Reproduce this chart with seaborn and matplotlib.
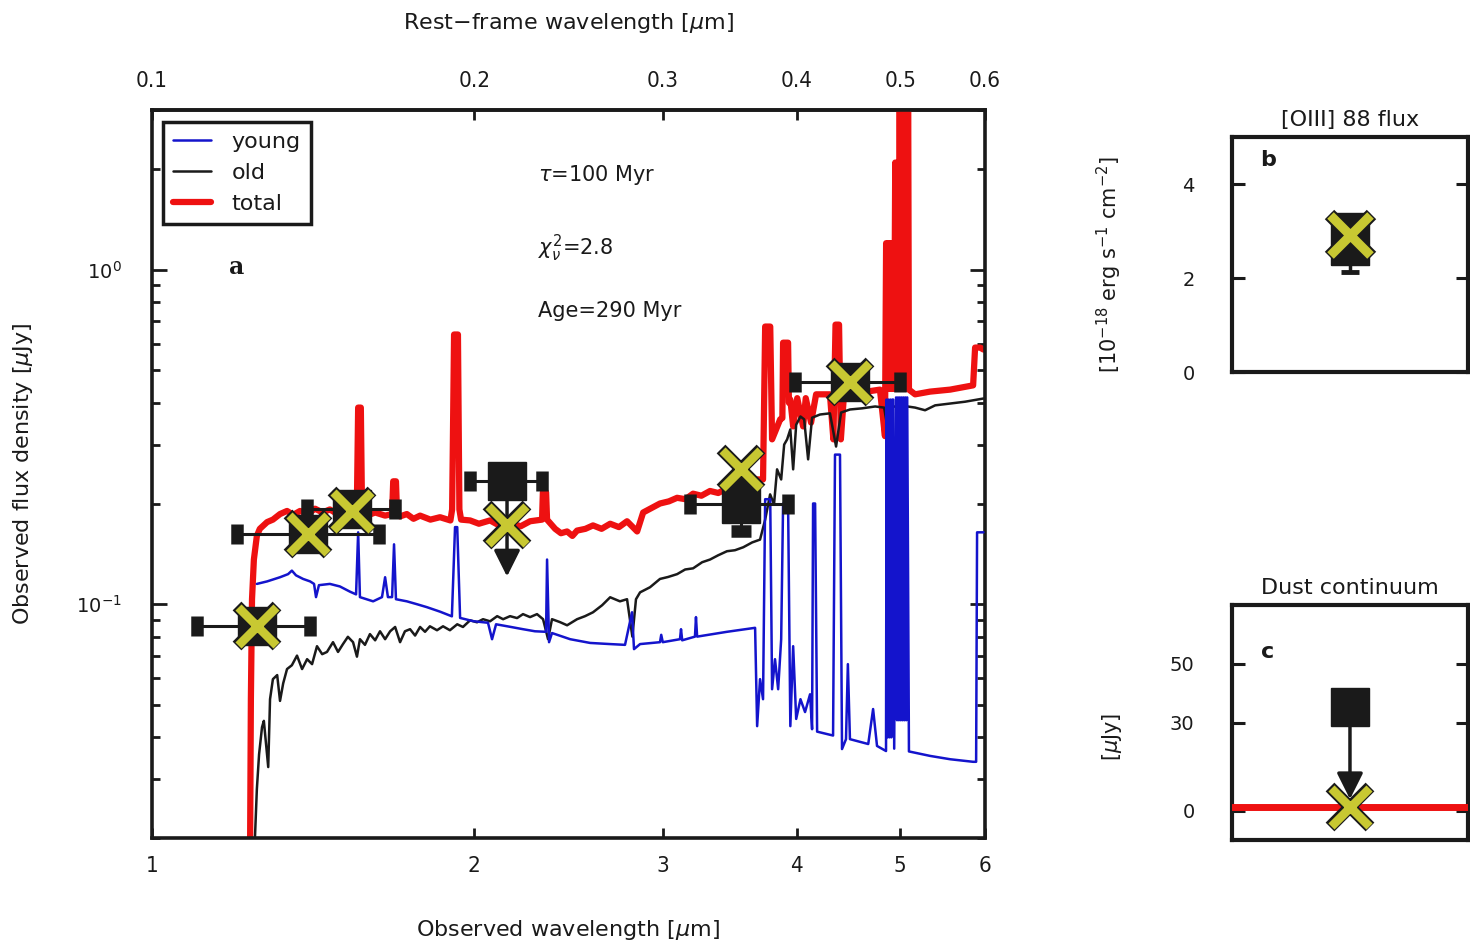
import matplotlib
matplotlib.use("Agg")
import matplotlib.pyplot as plt
from matplotlib import font_manager
from matplotlib.ticker import FixedLocator, NullLocator, LogLocator, NullFormatter
import seaborn as sns

# ---------------- data ----------------
total_wl = [1.235, 1.237, 1.240, 1.245, 1.253, 1.261, 1.281, 1.297, 1.317, 1.337,
            1.355, 1.375, 1.398, 1.420, 1.443, 1.466, 1.490, 1.515, 1.547, 1.554,
            1.558, 1.567, 1.571, 1.595, 1.616, 1.651, 1.676, 1.680, 1.690, 1.694,
            1.705, 1.730, 1.755, 1.780, 1.820, 1.858, 1.900, 1.907, 1.915, 1.931,
            1.937, 1.944, 1.982, 2.020, 2.069, 2.110, 2.160, 2.210, 2.255, 2.314,
            2.318, 2.334, 2.339, 2.380, 2.410, 2.442, 2.470, 2.495, 2.540, 2.582,
            2.630, 2.679, 2.730, 2.778, 2.839, 2.876, 2.930, 2.982, 3.040, 3.094,
            3.150, 3.202, 3.260, 3.321, 3.380, 3.444, 3.500, 3.567, 3.620, 3.675,
            3.722, 3.739, 3.780, 3.795, 3.828, 3.862, 3.880, 3.886, 3.928, 3.935,
            3.947, 3.971, 4.006, 4.057, 4.080, 4.127, 4.172, 4.298, 4.330, 4.350,
            4.383, 4.400, 4.430, 4.585, 4.786, 4.838, 4.850, 4.862, 4.874, 4.886,
            4.898, 4.910, 4.922, 4.934, 4.946, 4.958, 4.970, 4.982, 4.994, 5.006,
            5.018, 5.030, 5.042, 5.054, 5.066, 5.078, 5.084, 5.094, 5.162, 5.331,
            5.567, 5.848, 5.873, 5.936, 5.980, 6.000]
total_fnu = [0.020, 0.052, 0.1035, 0.136, 0.160, 0.168, 0.176, 0.179, 0.186, 0.190,
             0.185, 0.190, 0.186, 0.193, 0.188, 0.192, 0.186, 0.189, 0.188, 0.206,
             0.387, 0.387, 0.192, 0.185, 0.188, 0.184, 0.186, 0.233, 0.233, 0.186,
             0.183, 0.186, 0.180, 0.184, 0.179, 0.182, 0.178, 0.192, 0.640, 0.640,
             0.192, 0.179, 0.178, 0.174, 0.178, 0.172, 0.175, 0.171, 0.177, 0.179,
             0.216, 0.216, 0.179, 0.168, 0.163, 0.165, 0.160, 0.166, 0.168, 0.172,
             0.168, 0.174, 0.170, 0.177, 0.165, 0.188, 0.194, 0.200, 0.203, 0.208,
             0.206, 0.214, 0.211, 0.218, 0.215, 0.222, 0.219, 0.226, 0.230, 0.236,
             0.236, 0.676, 0.676, 0.311, 0.333, 0.357, 0.360, 0.605, 0.605, 0.400,
             0.409, 0.340, 0.413, 0.340, 0.413, 0.349, 0.424, 0.424, 0.311, 0.685,
             0.685, 0.311, 0.424, 0.429, 0.438, 0.318, 1.20, 0.44, 1.20, 0.44,
             1.20, 0.44, 1.20, 0.44, 2.09, 0.44, 2.09, 0.44, 5.0, 0.44,
             5.0, 0.44, 5.0, 0.44, 5.0, 0.44, 5.0, 0.438, 0.424, 0.432,
             0.438, 0.451, 0.585, 0.585, 0.577, 0.577]

old_wl = [1.248, 1.253, 1.259, 1.267, 1.272, 1.278, 1.284, 1.289, 1.297, 1.309,
          1.317, 1.326, 1.337, 1.351, 1.366, 1.381, 1.396, 1.411, 1.426, 1.442,
          1.457, 1.476, 1.492, 1.508, 1.524, 1.541, 1.554, 1.564, 1.581, 1.598,
          1.616, 1.633, 1.651, 1.669, 1.687, 1.705, 1.723, 1.742, 1.761, 1.780,
          1.799, 1.818, 1.846, 1.870, 1.898, 1.928, 1.952, 1.982, 2.012, 2.038,
          2.069, 2.101, 2.128, 2.160, 2.193, 2.221, 2.255, 2.289, 2.319, 2.344,
          2.364, 2.405, 2.442, 2.495, 2.538, 2.582, 2.633, 2.679, 2.736, 2.778,
          2.810, 2.832, 2.857, 2.919, 2.982, 3.034, 3.094, 3.148, 3.202, 3.265,
          3.321, 3.379, 3.444, 3.504, 3.567, 3.636, 3.698, 3.739, 3.779, 3.811,
          3.836, 3.870, 3.895, 3.920, 3.947, 3.971, 3.997, 4.034, 4.066, 4.101,
          4.136, 4.207, 4.298, 4.355, 4.402, 4.487, 4.605, 4.737, 4.829, 4.859,
          4.891, 4.996, 5.162, 5.274, 5.389, 5.567, 5.748, 5.980]
old_fnu = [0.0202, 0.028, 0.0356, 0.0429, 0.0448, 0.0382, 0.0326, 0.052, 0.0597, 0.0614,
           0.0514, 0.058, 0.064, 0.0657, 0.0702, 0.064, 0.0685, 0.0662, 0.0749, 0.0709,
           0.072, 0.077, 0.072, 0.076, 0.0799, 0.077, 0.0697, 0.0786, 0.0756, 0.0814,
           0.078, 0.083, 0.0786, 0.083, 0.0855, 0.077, 0.083, 0.0842, 0.0806, 0.0855,
           0.0827, 0.0859, 0.0836, 0.0859, 0.0836, 0.0871, 0.0855, 0.0895, 0.0883, 0.0902,
           0.0889, 0.0921, 0.0902, 0.0921, 0.0909, 0.0934, 0.0915, 0.0934, 0.0902, 0.0786,
           0.0902, 0.0884, 0.0865, 0.0902, 0.0921, 0.0946, 0.0993, 0.1049, 0.102, 0.1035,
           0.080, 0.1035, 0.1085, 0.1124, 0.119, 0.1206, 0.123, 0.127, 0.128, 0.1335,
           0.136, 0.140, 0.144, 0.145, 0.148, 0.153, 0.156, 0.179, 0.213, 0.199,
           0.253, 0.236, 0.300, 0.311, 0.333, 0.253, 0.344, 0.364, 0.357, 0.271,
           0.361, 0.369, 0.372, 0.296, 0.374, 0.382, 0.385, 0.390, 0.387, 0.344,
           0.387, 0.393, 0.387, 0.380, 0.393, 0.398, 0.403, 0.412]

young_wl = [1.253, 1.281, 1.317, 1.340, 1.351, 1.363, 1.384, 1.405, 1.417, 1.423,
            1.432, 1.466, 1.498, 1.531, 1.551, 1.558, 1.564, 1.609, 1.640, 1.651,
            1.661, 1.676, 1.683, 1.690, 1.730, 1.768, 1.806, 1.858, 1.906, 1.919,
            1.928, 1.940, 1.995, 2.060, 2.078, 2.096, 2.160, 2.221, 2.279, 2.334,
            2.339, 2.349, 2.364, 2.458, 2.566, 2.679, 2.766, 2.808, 2.820, 2.857,
            2.982, 2.990, 3.000, 3.113, 3.120, 3.128, 3.215, 3.222, 3.230, 3.444,
            3.659, 3.675, 3.698, 3.722, 3.739, 3.780, 3.795, 3.819, 3.845, 3.870,
            3.886, 3.928, 3.947, 3.971, 3.997, 4.034, 4.074, 4.118, 4.136, 4.145,
            4.163, 4.181, 4.327, 4.345, 4.392, 4.411, 4.449, 4.467, 4.487, 4.667,
            4.716, 4.756, 4.849, 4.855, 4.865, 4.875, 4.885, 4.895, 4.905, 4.915,
            4.925, 4.935, 4.955, 4.965, 4.975, 4.985, 4.995, 5.005, 5.015, 5.025,
            5.035, 5.045, 5.055, 5.065, 5.075, 5.094, 5.331, 5.567, 5.848, 5.886,
            5.898, 5.948, 5.980]
young_fnu = [0.115, 0.117, 0.1204, 0.123, 0.126, 0.122, 0.119, 0.117, 0.115, 0.105,
             0.114, 0.115, 0.113, 0.109, 0.107, 0.164, 0.105, 0.102, 0.105, 0.1204,
             0.105, 0.105, 0.151, 0.1035, 0.102, 0.100, 0.098, 0.095, 0.092, 0.170,
             0.170, 0.091, 0.089, 0.088, 0.0786, 0.0871, 0.0856, 0.0842, 0.083, 0.0827,
             0.136, 0.077, 0.082, 0.0786, 0.0766, 0.076, 0.0756, 0.0946, 0.0734, 0.076,
             0.077, 0.081, 0.077, 0.0786, 0.0842, 0.078, 0.080, 0.0915, 0.080, 0.0827,
             0.085, 0.0432, 0.0597, 0.052, 0.206, 0.206, 0.0557, 0.0685, 0.0557, 0.0786,
             0.200, 0.200, 0.0432, 0.0749, 0.0454, 0.052, 0.0476, 0.0538, 0.0423, 0.200,
             0.200, 0.0416, 0.0405, 0.280, 0.280, 0.0369, 0.0395, 0.0662, 0.0395, 0.0382,
             0.0486, 0.0377, 0.0364, 0.409, 0.040, 0.409, 0.040, 0.409, 0.040, 0.409,
             0.409, 0.037, 0.415, 0.045, 0.415, 0.045, 0.415, 0.045, 0.415, 0.045,
             0.415, 0.045, 0.415, 0.045, 0.415, 0.0363, 0.0352, 0.0344, 0.0338, 0.0338,
             0.164, 0.164, 0.164]

# photometry
phot_wl = [1.253, 1.399, 1.537, 2.146, 3.550, 4.490]
phot_wl_lo = [1.102, 1.200, 1.396, 1.982, 3.182, 3.990]
phot_wl_hi = [1.405, 1.630, 1.687, 2.314, 3.929, 4.996]
phot_fnu = [0.086, 0.162, 0.192, 0.233, 0.200, 0.463]
phot_ferr = [0.0, 0.0, 0.0, 0.0, 0.035, 0.0]
phot_model = [0.086, 0.162, 0.190, 0.173, 0.253, 0.463]
upper_wl = [2.146]
upper_from = [0.233]
upper_to = [0.121]

# [OIII] 88 flux panel
oiii_x = [1.0]
oiii_obs = [2.84]
oiii_err_lo = [0.71]
oiii_err_hi = [0.30]
oiii_model = [2.92]

# dust continuum panel
dust_x = [1.0]
dust_upper = [35.4]
dust_arrow_to = [3.9]
dust_model = [1.2]

xticks_obs = [1, 2, 3, 4, 5, 6]
xticks_rest = [0.1, 0.2, 0.3, 0.4, 0.5, 0.6]
xticklabels_obs = ["1", "2", "3", "4", "5", "6"]
xticklabels_rest = ["0.1", "0.2", "0.3", "0.4", "0.5", "0.6"]

# ---------------- style ----------------
sns.set_theme(style="ticks")
plt.rcParams["font.family"] = ["DejaVu Sans"]
plt.rcParams["mathtext.fontset"] = "dejavusans"
plt.rcParams.update({"text.color": "k", "axes.labelcolor": "k", "xtick.color": "k",
                     "ytick.color": "k", "axes.edgecolor": "k"})
installed = {f.name for f in font_manager.fontManager.ttflist}
narrow = "Liberation Sans Narrow" if "Liberation Sans Narrow" in installed else "DejaVu Sans"

BLUE = "#1414cc"
RED = "#ee1111"
YELLOW = "#c8c832"

fig = plt.figure(figsize=(14.7, 9.43), dpi=100)
ax = fig.add_axes([0.1034, 0.1113, 0.5667, 0.7720])
axb = fig.add_axes([0.8381, 0.6055, 0.1605, 0.2492])
axc = fig.add_axes([0.8381, 0.1092, 0.1605, 0.2492])

# ---------------- main panel ----------------
sns.lineplot(x=total_wl, y=total_fnu, ax=ax, color=RED, lw=4.5,
             estimator=None, sort=False, label="total", zorder=2)
sns.lineplot(x=old_wl, y=old_fnu, ax=ax, color="k", lw=1.8,
             estimator=None, sort=False, label="old", zorder=3)
sns.lineplot(x=young_wl, y=young_fnu, ax=ax, color=BLUE, lw=1.8,
             estimator=None, sort=False, label="young", zorder=3)

ax.set_xscale("log")
ax.set_yscale("log")
ax.set_xlim(1, 6)
ax.set_ylim(0.02, 3.0)

xlo = [w - lo for w, lo in zip(phot_wl, phot_wl_lo)]
xhi = [hi - w for w, hi in zip(phot_wl, phot_wl_hi)]
ax.errorbar(phot_wl, phot_fnu, xerr=[xlo, xhi], yerr=phot_ferr, fmt="none",
            ecolor="k", elinewidth=2.2, capsize=7, capthick=9, zorder=5)
for xw, y0, y1 in zip(upper_wl, upper_from, upper_to):
    ax.annotate("", xy=(xw, y1), xytext=(xw, y0),
                arrowprops=dict(arrowstyle="-|>", color="k", lw=2.5,
                                mutation_scale=40, shrinkA=0, shrinkB=0),
                zorder=5)
ax.plot(phot_wl, phot_fnu, ls="none", marker="s", ms=28, color="k", zorder=6)


def xmark(a, x, y, ms):
    a.plot(x, y, ls="none", marker="x", ms=ms + 1.5, mew=ms * 0.33, color="k", zorder=7)
    a.plot(x, y, ls="none", marker="x", ms=ms, mew=ms * 0.23, color=YELLOW, zorder=8)


xmark(ax, phot_wl, phot_model, 27)

# axes / ticks
ax.xaxis.set_major_locator(FixedLocator(xticks_obs))
ax.set_xticklabels(xticklabels_obs)
ax.xaxis.set_minor_locator(NullLocator())
ax.yaxis.set_major_locator(LogLocator(base=10))
ax.yaxis.set_minor_locator(LogLocator(base=10, subs=[2, 3, 4, 5, 6, 7, 8, 9]))
ax.yaxis.set_minor_formatter(NullFormatter())
ax.tick_params(axis="x", which="major", direction="in", length=7, width=2,
               top=False, bottom=True, pad=13, labelsize=16)
ax.tick_params(axis="y", which="major", direction="in", length=11, width=2,
               left=True, right=True, pad=22, labelsize=14)
ax.tick_params(axis="y", which="minor", direction="in", length=5.5, width=2,
               left=True, right=True)
for lab in ax.get_xticklabels():
    lab.set_fontfamily(narrow)
    if narrow == "DejaVu Sans":
        lab.set_fontstretch("condensed")
for sp in ax.spines.values():
    sp.set_linewidth(2.6)
    sp.set_color("k")

sec = ax.secondary_xaxis("top", functions=(lambda v: v / 10.0, lambda v: v * 10.0))
sec.set_xticks(xticks_rest, labels=xticklabels_rest)
sec.xaxis.set_minor_locator(NullLocator())
sec.tick_params(axis="x", which="major", direction="in", length=7, width=2,
                pad=14, labelsize=16)
for lab in sec.get_xticklabels():
    lab.set_fontfamily(narrow)
    if narrow == "DejaVu Sans":
        lab.set_fontstretch("condensed")
sec.spines["top"].set_linewidth(2.6)
sec.set_xlabel("Rest\u2212frame wavelength [$\\mu$m]", fontsize=16, labelpad=30)

ax.set_xlabel("Observed wavelength [$\\mu$m]", fontsize=16)
ax.xaxis.set_label_coords(0.5, -0.110)
ax.set_ylabel("Observed flux density [$\\mu$Jy]", fontsize=16)
ax.yaxis.set_label_coords(-0.140, 0.5)

ax.text(0.463, 0.911, "$\\tau$=100 Myr", transform=ax.transAxes, fontsize=15,
        va="center", ha="left")
ax.text(0.463, 0.810, "$\\chi^2_\\nu$=2.8", transform=ax.transAxes, fontsize=15,
        va="center", ha="left")
ax.text(0.463, 0.724, "Age=290 Myr", transform=ax.transAxes, fontsize=15,
        va="center", ha="left")
ax.text(0.101, 0.784, "a", transform=ax.transAxes, fontsize=17, fontweight="bold",
        family="DejaVu Serif", va="center", ha="center")

h, l = ax.get_legend_handles_labels()
d = dict(zip(l, h))
leg = ax.legend([d["young"], d["old"], d["total"]], ["young", "old", "total"],
                loc="upper left", bbox_to_anchor=(0.013, 0.984), borderaxespad=0,
                fontsize=16, frameon=True, fancybox=False, framealpha=1,
                edgecolor="k", handlelength=1.7, handletextpad=0.95,
                labelspacing=0.5, borderpad=0.45)
leg.get_frame().set_linewidth(2.5)

# ---------------- panel b ----------------
rect = [(-0.75, -1), (0.75, -1), (0.75, 1), (-0.75, 1), (-0.75, -1)]
axb.errorbar(oiii_x, oiii_obs, yerr=[oiii_err_lo, oiii_err_hi], fmt="none",
             ecolor="k", elinewidth=2.5, capsize=6.5, capthick=3.5, zorder=5)
axb.plot(oiii_x, oiii_obs, ls="none", marker=rect, ms=37, color="k", zorder=6)
xmark(axb, oiii_x, oiii_model, 29)
axb.set_xlim(0, 2)
axb.set_ylim(0, 5)
axb.set_xticks([])
axb.set_yticks([0, 2, 4])
axb.tick_params(axis="y", direction="in", length=9, width=2.2, left=True,
                right=True, labelsize=14, pad=27)
axb.set_title("[OIII] 88 flux", fontsize=16, pad=8)
axb.set_ylabel("[10$^{-18}$ erg s$^{-1}$ cm$^{-2}$]", fontsize=15)
axb.yaxis.set_label_coords(-0.458, 0.455)
axb.text(0.153, 0.902, "b", transform=axb.transAxes, fontsize=16,
         fontweight="bold", va="center", ha="center")
for sp in axb.spines.values():
    sp.set_linewidth(3)
    sp.set_color("k")

# ---------------- panel c ----------------
for v in dust_model:
    axc.axhline(v, color=RED, lw=5, zorder=3)
for xw, y0, y1 in zip(dust_x, dust_upper, dust_arrow_to):
    axc.annotate("", xy=(xw, y1), xytext=(xw, y0),
                 arrowprops=dict(arrowstyle="-|>", color="k", lw=2.5,
                                 mutation_scale=40, shrinkA=0, shrinkB=0),
                 zorder=5)
axc.plot(dust_x, dust_upper, ls="none", marker="s", ms=28, color="k", zorder=6)
xmark(axc, dust_x, dust_model, 27)
axc.set_xlim(0, 2)
axc.set_ylim(-10, 70)
axc.set_xticks([])
axc.set_yticks([0, 30, 50])
axc.tick_params(axis="y", direction="in", length=9, width=2.2, left=True,
                right=True, labelsize=14, pad=27)
axc.set_title("Dust continuum", fontsize=16, pad=8)
axc.set_ylabel("[$\\mu$Jy]", fontsize=15)
axc.yaxis.set_label_coords(-0.458, 0.438)
axc.text(0.153, 0.80, "c", transform=axc.transAxes, fontsize=16,
         fontweight="bold", va="center", ha="center")
for sp in axc.spines.values():
    sp.set_linewidth(3)
    sp.set_color("k")

fig.savefig("out.png", dpi=100)
